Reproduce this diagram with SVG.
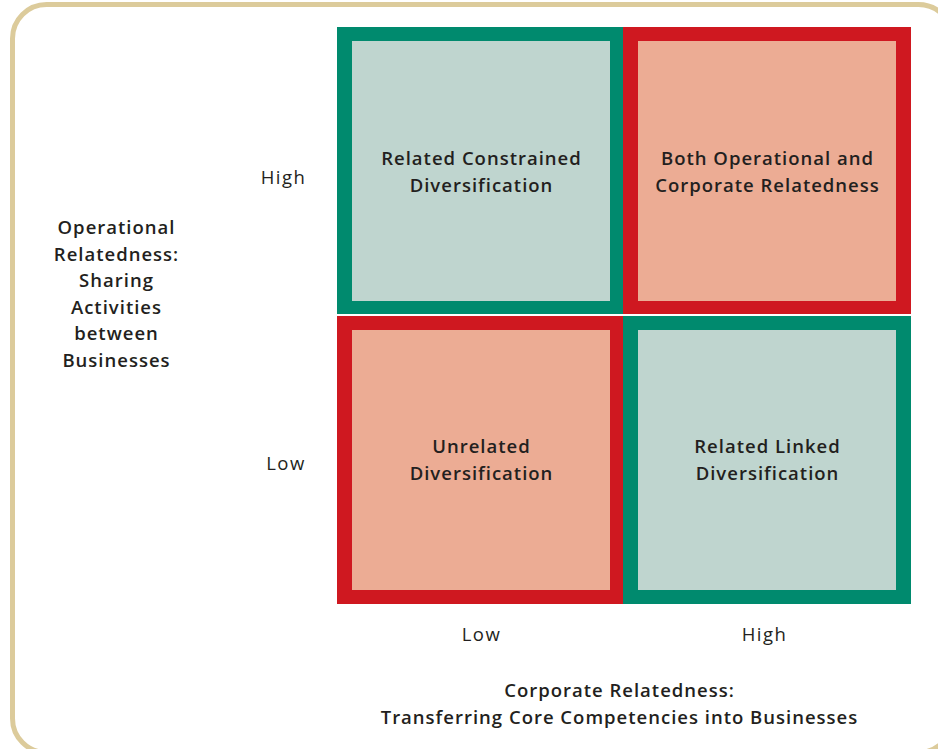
<svg xmlns="http://www.w3.org/2000/svg" width="938" height="749" viewBox="0 0 938 749">
<style>
.frame{fill:#ffffff;stroke:#dccb9b;stroke-width:5}
.g{fill:#008a6e}
.r{fill:#cf1820}
.gi{fill:#bfd5cf}
.ri{fill:#ecac94}
text{font-family:"Open Sans","Noto Sans","Liberation Sans",sans-serif;fill:#231f20;text-anchor:middle;font-variant-ligatures:none}
.b{font-weight:600;font-size:18.5px;letter-spacing:1px}
.l{font-weight:400;font-size:18.5px;letter-spacing:1.5px}
</style>
<rect class="frame" x="12.5" y="4.5" width="940" height="748" rx="34"/>
<g id="cell-related-constrained">
<rect class="g" x="337" y="27" width="286" height="287"/>
<rect class="gi" x="352" y="41" width="258" height="260"/>
<text class="b" x="481.5" y="165">Related Constrained</text>
<text class="b" x="481.5" y="192">Diversification</text>
</g>
<g id="cell-both">
<rect class="r" x="623" y="27" width="288" height="287"/>
<rect class="ri" x="638" y="41" width="258" height="260"/>
<text class="b" x="767.5" y="165">Both Operational and</text>
<text class="b" x="767.5" y="192">Corporate Relatedness</text>
</g>
<g id="cell-unrelated">
<rect class="r" x="337" y="316" width="286" height="288"/>
<rect class="ri" x="352" y="330" width="258" height="260"/>
<text class="b" x="481.5" y="453">Unrelated</text>
<text class="b" x="481.5" y="480">Diversification</text>
</g>
<g id="cell-related-linked">
<rect class="g" x="623" y="316" width="288" height="288"/>
<rect class="gi" x="638" y="330" width="258" height="260"/>
<text class="b" x="767.5" y="453">Related Linked</text>
<text class="b" x="767.5" y="480">Diversification</text>
</g>
<g id="y-axis">
<text class="l" x="283.5" y="184">High</text>
<text class="l" x="286" y="470">Low</text>
<text class="b" x="116.5" y="234">Operational</text>
<text class="b" x="116.5" y="261">Relatedness:</text>
<text class="b" x="116.5" y="287">Sharing</text>
<text class="b" x="116.5" y="314">Activities</text>
<text class="b" x="116.5" y="340">between</text>
<text class="b" x="116.5" y="367">Businesses</text>
</g>
<g id="x-axis">
<text class="l" x="481.5" y="641">Low</text>
<text class="l" x="764.5" y="641">High</text>
<text class="b" x="619.5" y="697">Corporate Relatedness:</text>
<text class="b" x="619.5" y="724">Transferring Core Competencies into Businesses</text>
</g>
<g id="connectors"/>
</svg>
